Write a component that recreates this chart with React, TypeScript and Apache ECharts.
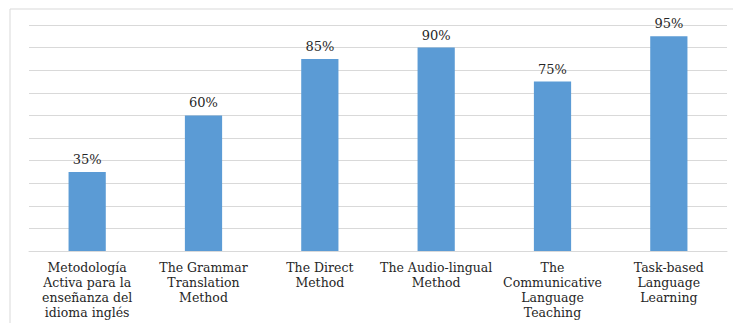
import React, { useEffect, useRef } from "react";
import * as echarts from "echarts";

// Methods compared, with their wrapped axis labels
const categories = [
  "Metodología\nActiva para la\nenseñanza del\nidioma inglés",
  "The Grammar\nTranslation\nMethod",
  "The Direct\nMethod",
  "The Audio-lingual\nMethod",
  "The\nCommunicative\nLanguage\nTeaching",
  "Task-based\nLanguage\nLearning",
];

// Percentage per method
const values = [35, 60, 85, 90, 75, 95];

const FONT = "DejaVu Serif";

export default function App() {
  const ref = useRef<HTMLDivElement>(null);

  useEffect(() => {
    if (!ref.current) return;
    const chart = echarts.init(ref.current, null, { renderer: "svg" });
    chart.setOption({
      animation: false,
      backgroundColor: "#ffffff",
      textStyle: { fontFamily: FONT },
      graphic: [
        {
          type: "rect",
          shape: { x: 10, y: 9, width: 740, height: 330 },
          style: { fill: "none", stroke: "#d9d9d9", lineWidth: 1 },
          silent: true,
        },
      ],
      grid: { left: 29, right: 6, top: 25, bottom: 72 },
      xAxis: {
        type: "category",
        data: categories,
        axisTick: { show: false },
        axisLine: { lineStyle: { color: "#d9d9d9", width: 1 } },
        axisLabel: {
          interval: 0,
          color: "#262626",
          fontFamily: FONT,
          fontSize: 12.5,
          lineHeight: 15,
          margin: 9,
        },
      },
      yAxis: {
        type: "value",
        min: 0,
        max: 100,
        interval: 10,
        axisLabel: { show: false },
        axisLine: { show: false },
        axisTick: { show: false },
        splitLine: { lineStyle: { color: "#d9d9d9", width: 1 } },
      },
      series: [
        {
          type: "bar",
          data: values,
          barWidth: "32%",
          itemStyle: { color: "#5b9bd5" },
          label: {
            show: true,
            position: "top",
            distance: 6,
            formatter: "{c}%",
            color: "#262626",
            fontFamily: FONT,
            fontSize: 13,
          },
        },
      ],
    });
    return () => chart.dispose();
  }, []);

  return (
    <div
      ref={ref}
      style={{ position: "fixed", left: 0, top: 0, width: 733, height: 323 }}
    />
  );
}
